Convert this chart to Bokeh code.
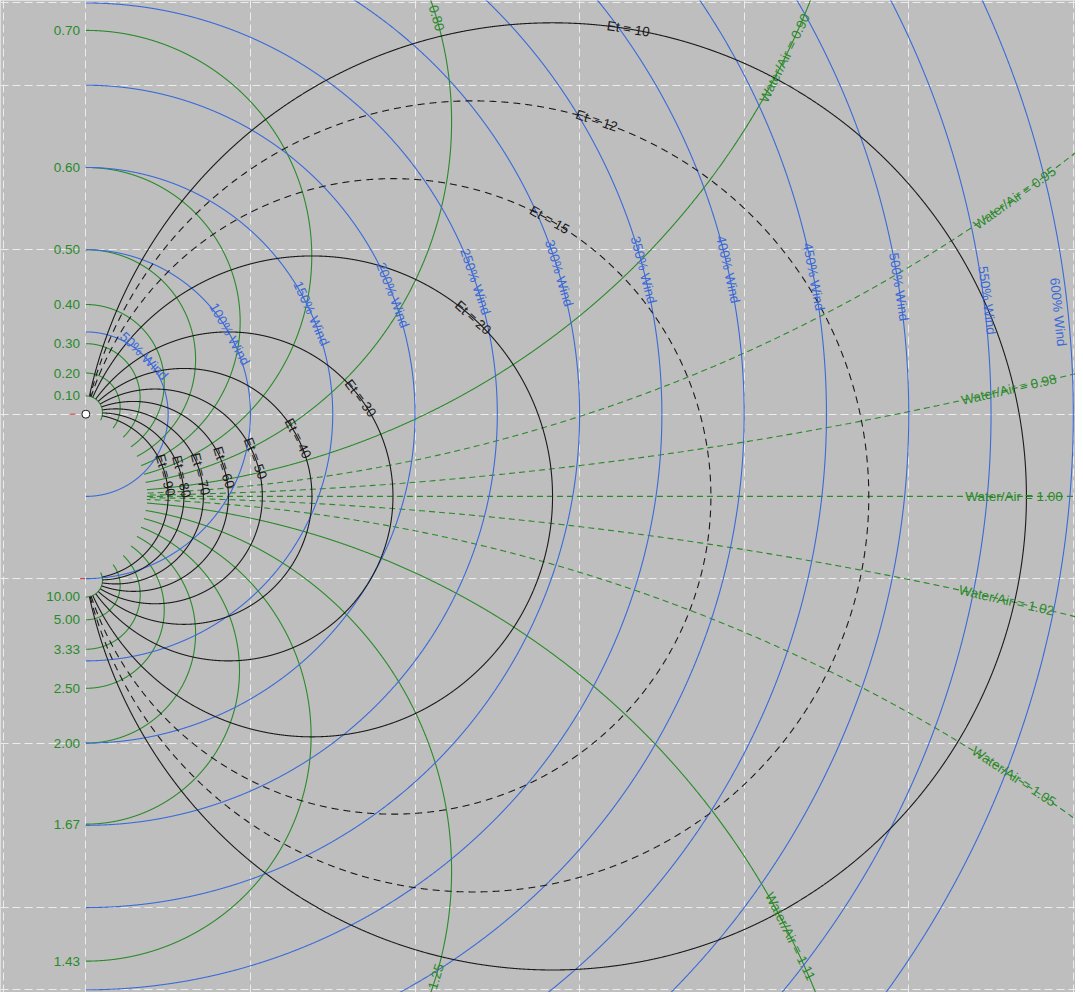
import numpy as np
from bokeh.plotting import figure
from bokeh.models import Range1d, FixedTicker
from bokeh.core.properties import value
from bokeh.embed import file_html
from bokeh.resources import INLINE

# poles: boat at rest (A) and tip of the true wind (B); wind speed = 1
pole_a = (0.0, 0.0)
pole_b = (0.0, -1.0)

et_values = [10, 12, 15, 20, 30, 40, 50, 60, 70, 80, 90]
et_dashed = [12, 15]
wind_pct = [50, 100, 150, 200, 250, 300, 350, 400, 450, 500, 550, 600]
ratio_left_lo = [0.10, 0.20, 0.30, 0.40, 0.50, 0.60, 0.70]
ratio_left_hi = [10.00, 5.00, 3.33, 2.50, 2.00, 1.67, 1.43]
ratio_far = [0.80, 0.90, 1.11, 1.25]
ratio_near = [0.95, 0.98, 1.02, 1.05]
ratio_one = 1.00

# where the inline labels sit (angle on their own curve)
et_label_deg = [80.8, 71.8, 60.5, 48, 36.6, 27, 20.7, 17.7, 14.8, 13.7, 15]
wind_label_deg = [45, 29.1, 24.1, 21.2, 18.8, 16.6, 14.5, 12.7, 10.7, 8.9, 7.2, 6.0]
wind_label_dr = [0, 0, 0, 0, 0, 0, 0, 0, 0, 0, 0.02, -0.06]
ratio_label_deg = {0.80: 16.5, 0.90: -26.3, 0.95: -54.6, 0.98: -76.9,
                   1.02: 77.2, 1.05: 56.6, 1.11: 26.5, 1.25: -16.8}
ratio_one_label_x = 5.64
et_max_green = 107

GREEN = "#2a8a2a"
BLUE = "#3a6ad8"
BLACK = "#1a1a1a"
FONT = value("Liberation Sans")
FS = "13.5px"

ax_, ay_ = pole_a
bx_, by_ = pole_b
ym = (ay_ + by_) / 2
h = (ay_ - by_) / 2


def ratio_at(x, y):
    return np.hypot(x - ax_, y - ay_) / np.hypot(x - bx_, y - by_)


def et_at(x, y):
    ux, uy = ax_ - x, ay_ - y
    vx, vy = bx_ - x, by_ - y
    return np.degrees(np.abs(np.arctan2(ux * vy - uy * vx, ux * vx + uy * vy)))


def apollo(k):
    cy = ym + h * (1 + k * k) / (1 - k * k)
    r = 2 * h * k / abs(1 - k * k)
    return cy, r


def upright(a):
    a = (a + np.pi) % (2 * np.pi) - np.pi
    if a > np.pi / 2:
        a -= np.pi
    if a < -np.pi / 2:
        a += np.pi
    return a


p = figure(width=1075, height=992, output_backend="svg", toolbar_location=None,
           x_range=Range1d(-86 / 165.8, 997 / 165.8),
           y_range=Range1d(-583 / 165.8, 417 / 165.8),
           min_border=0, background_fill_color="#bebebe", border_fill_color="#bebebe")
p.outline_line_color = None
p.xaxis.visible = False
p.yaxis.visible = False
p.xgrid.ticker = FixedTicker(ticks=[-0.5, 0, 1, 2, 3, 4, 5, 6])
p.ygrid.ticker = FixedTicker(ticks=[-3.5, -3, -2, -1, 0, 1, 2, 2.5])
for g in (p.xgrid, p.ygrid):
    g.grid_line_color = "#ececec"
    g.grid_line_dash = "8 4"
    g.grid_line_width = 1

t_half = np.linspace(-np.pi / 2, np.pi / 2, 4000)
t_full = np.linspace(-np.pi, np.pi, 6000)

# Water/Air circles (green)
for k in ratio_left_lo + ratio_left_hi + ratio_far + ratio_near:
    cy, r = apollo(k)
    x = r * np.cos(t_half)
    y = cy + r * np.sin(t_half)
    x = np.where(et_at(x, y) > et_max_green, np.nan, x)
    dash = "6 4" if k in ratio_near else "solid"
    p.line(x, y, line_color=GREEN, line_width=1.1, line_dash=dash)

xl = np.linspace(0, 7, 3000)
yl = np.full_like(xl, ym)
xl = np.where(et_at(xl, yl) > et_max_green, np.nan, xl)
p.line(xl, yl, line_color=GREEN, line_width=1.1, line_dash="6 4")

# % Wind circles (blue)
for w in wind_pct:
    r = w / 100
    p.line(ax_ + r * np.cos(t_half), ay_ + r * np.sin(t_half), line_color=BLUE, line_width=1.1)

# Et circles (black)
et_lab_x, et_lab_y, et_lab_a, et_lab_t = [], [], [], []
for e, deg in zip(et_values, et_label_deg):
    er = np.radians(e)
    cx, r = h / np.tan(er), h / np.sin(er)
    x = cx + r * np.cos(t_full)
    y = ym + r * np.sin(t_full)
    q = ratio_at(x, y)
    ok = (x >= 0) & (q >= 0.1) & (q <= 10)
    p.line(np.where(ok, x, np.nan), y, line_color=BLACK, line_width=1.1,
           line_dash="7 5" if e in et_dashed else "solid")
    f = np.radians(deg)
    et_lab_x.append(cx + r * np.cos(f))
    et_lab_y.append(ym + r * np.sin(f))
    et_lab_a.append(upright(f - np.pi / 2))
    et_lab_t.append("Et = %d" % e)

p.text(et_lab_x, et_lab_y, text=et_lab_t, angle=et_lab_a, text_color=BLACK,
       text_font=FONT, text_font_size=FS, text_align="center", text_baseline="middle")

# wind labels
wl = np.radians(wind_label_deg)
wr = np.array(wind_pct) / 100 + np.array(wind_label_dr)
p.text(ax_ + wr * np.cos(wl), ay_ + wr * np.sin(wl), text=["%d%% Wind" % w for w in wind_pct],
       angle=list(wl - np.pi / 2), text_color=BLUE, text_font=FONT, text_font_size=FS,
       text_align="center", text_baseline="middle")

# Water/Air labels along the curves
rx, ry, ra, rt = [], [], [], []
for k, deg in ratio_label_deg.items():
    cy, r = apollo(k)
    f = np.radians(deg)
    rx.append(r * np.cos(f))
    ry.append(cy + r * np.sin(f))
    ra.append(upright(f + np.pi / 2))
    rt.append("%.2f" % k if k in (0.80, 1.25) else "Water/Air = %.2f" % k)
rx.append(ratio_one_label_x)
ry.append(ym)
ra.append(0.0)
rt.append("Water/Air = %.2f" % ratio_one)
p.text(rx, ry, text=rt, angle=ra, text_color=GREEN, text_font=FONT, text_font_size=FS,
       text_align="center", text_baseline="middle")

# Water/Air values on the left edge
lx, ly, lt = [], [], []
for k in ratio_left_lo:
    cy, r = apollo(k)
    lx.append(-0.035)
    ly.append(cy + r)
    lt.append("%.2f" % k)
for k in ratio_left_hi:
    cy, r = apollo(k)
    lx.append(-0.035)
    ly.append(cy - r)
    lt.append("%.2f" % k)
p.text(lx, ly, text=lt, text_color=GREEN, text_font=FONT, text_font_size=FS,
       text_align="right", text_baseline="middle")

# poles
p.scatter([ax_ - 0.078, bx_ - 0.02], [ay_, by_], marker="dash", size=5, line_color="#e03030")
p.scatter([ax_], [ay_], size=8, fill_color="white", line_color=BLACK, line_width=1)

open("out.html", "w").write(file_html(p, INLINE))
